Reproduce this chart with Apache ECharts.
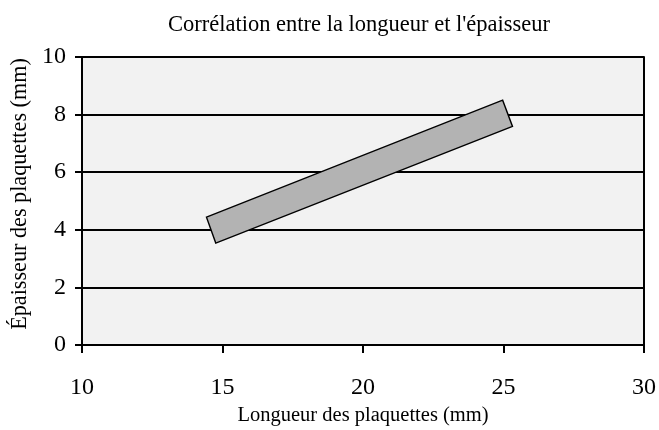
<!DOCTYPE html>
<html>
<head>
<meta charset="utf-8">
<script src="https://cdn.jsdelivr.net/npm/echarts@6/dist/echarts.min.js"></script>
<style>
  html, body { margin: 0; padding: 0; background: #ffffff; }
  #chart { width: 659px; height: 430px; }
</style>
</head>
<body>
<div id="chart"></div>
<script>
// Corners of the correlation band (length in mm, thickness in mm)
var bandLength = [14.43, 24.97, 25.32, 14.76];
var bandThickness = [4.44, 8.50, 7.59, 3.54];

var xTicks = [10, 15, 20, 25, 30];
var yTicks = [0, 2, 4, 6, 8, 10];

var chartTitle = "Corrélation entre la longueur et l'épaisseur";
var xTitle = 'Longueur des plaquettes (mm)';
var yTitle = 'Épaisseur des plaquettes (mm)';

var serif = '"Liberation Serif", "DejaVu Serif", serif';

var chart = echarts.init(document.getElementById('chart'));

var bandPoints = bandLength.map(function (x, i) { return [x, bandThickness[i]]; });

chart.setOption({
  animation: false,
  title: {
    text: chartTitle,
    left: 163,
    top: 9,
    textStyle: { fontFamily: serif, fontSize: 22.5, fontWeight: 'normal', color: '#000' }
  },
  grid: {
    left: 82, right: 15, top: 57, bottom: 85,
    containLabel: false,
    outerBoundsMode: 'none',
    show: true,
    backgroundColor: '#f2f2f2',
    borderColor: '#8c8c8c',
    borderWidth: 1
  },
  xAxis: [{
    type: 'value',
    min: xTicks[0], max: xTicks[xTicks.length - 1], interval: 5,
    name: xTitle,
    nameLocation: 'middle',
    nameGap: 58,
    nameTextStyle: { fontFamily: serif, fontSize: 20.5, color: '#000' },
    axisLine: { show: true, onZero: false, lineStyle: { color: '#000', width: 2 } },
    axisTick: { show: true, inside: false, length: 8, lineStyle: { color: '#000', width: 2 } },
    axisLabel: { fontFamily: serif, fontSize: 24, color: '#000', margin: 31 },
    splitLine: { show: false }
  }],
  yAxis: [{
    type: 'value',
    min: yTicks[0], max: yTicks[yTicks.length - 1], interval: 2,
    name: yTitle,
    nameLocation: 'middle',
    nameGap: 50,
    nameTextStyle: { fontFamily: serif, fontSize: 22.2, color: '#000', padding: [0, 0, 0, 14] },
    axisLine: { show: true, onZero: false, lineStyle: { color: '#000', width: 2 } },
    axisTick: { show: true, inside: false, length: 7, lineStyle: { color: '#000', width: 2 } },
    axisLabel: { fontFamily: serif, fontSize: 24, color: '#000', margin: 16 },
    splitLine: { show: true, lineStyle: { color: '#000', width: 2 } }
  }, {
    type: 'value',
    position: 'right',
    min: yTicks[0], max: yTicks[yTicks.length - 1], interval: 2,
    axisLine: { show: true, onZero: false, lineStyle: { color: '#000', width: 2 } },
    axisTick: { show: false },
    axisLabel: { show: false },
    splitLine: { show: false }
  }],
  series: [{
    type: 'custom',
    coordinateSystem: 'cartesian2d',
    data: [0],
    z: 5,
    renderItem: function (params, api) {
      var pts = bandPoints.map(function (p) { return api.coord(p); });
      return {
        type: 'polygon',
        shape: { points: pts },
        style: { fill: '#b3b3b3', stroke: '#000', lineWidth: 1.4 }
      };
    }
  }]
});
</script>
</body>
</html>
